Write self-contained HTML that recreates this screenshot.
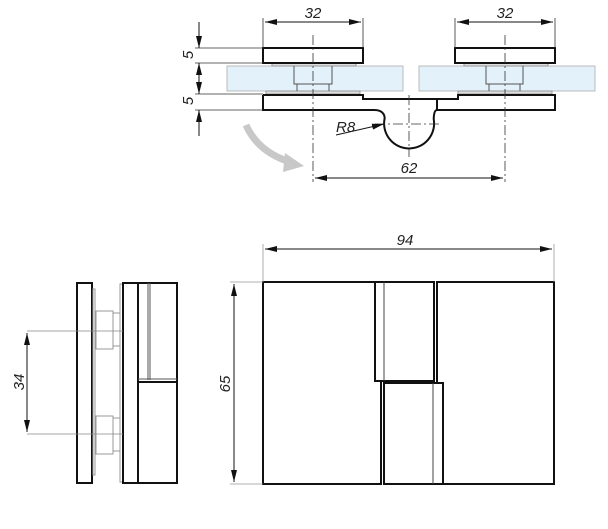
<!DOCTYPE html>
<html><head><meta charset="utf-8"><style>
html,body{margin:0;padding:0;background:#fff;}
svg{display:block;}
text{font-family:"Liberation Sans",sans-serif;font-style:italic;font-size:15px;fill:#222;}
</style></head><body>
<svg width="608" height="529" viewBox="0 0 608 529" xmlns="http://www.w3.org/2000/svg">
<defs>
<marker id="a" markerWidth="12" markerHeight="6" refX="12" refY="3" orient="auto-start-reverse" markerUnits="userSpaceOnUse">
<path d="M0,0 L12,3 L0,6 Z" fill="#111"/></marker>
</defs>
<g stroke="#111" fill="none">
<rect x="227" y="66" width="176" height="25" fill="#e3f1fb" stroke="#bbb" stroke-width="1"/>
<rect x="419" y="66" width="176" height="25" fill="#e3f1fb" stroke="#bbb" stroke-width="1"/>
<g stroke="#999" stroke-width="1" fill="#ddd">
<rect x="272" y="63" width="84" height="3"/><rect x="464" y="63" width="84" height="3"/>
<rect x="266" y="91" width="94" height="3"/><rect x="458" y="91" width="94" height="3"/>
</g>
<g stroke="#555" stroke-width="1">
<path d="M294,66 V84 H332 V66 M297,84 V91 M329,84 V91"/>
<path d="M486,66 V84 H523 V66 M489,84 V91 M520,84 V91"/>
</g>
<rect x="263" y="48" width="100" height="15" stroke-width="2"/>
<rect x="455" y="48" width="100" height="15" stroke-width="2"/>
<path stroke-width="2" d="M263,95 H363 V99 H437 M263,95 V110 H374 Q384,110 384.7,118 A25,25 0 1 0 433.7,119 Q434,110 437,110 M437,99 H458 V95 H555 V110 H437 Z"/>
<g stroke="#333" stroke-width="0.8" stroke-dasharray="10,3,2,3">
<path d="M313,35 V182 M505,35 V182 M409,95 V157 M375,124 H442"/>
</g>
<g stroke="#333" stroke-width="0.8">
<path d="M263,18 V48 M363,18 V48 M455,18 V48 M555,18 V48"/>
<path d="M195,48 H263 M195,63 H263 M195,94 H263 M195,110 H263"/>
</g>
<path d="M265,22 H361" stroke-width="1" marker-start="url(#a)" marker-end="url(#a)"/>
<path d="M457,22 H553" stroke-width="1" marker-start="url(#a)" marker-end="url(#a)"/>
<path d="M315,178 H503" stroke-width="1" marker-start="url(#a)" marker-end="url(#a)"/>
<path d="M199,22 V48 M199,63 V94 M199,110 V136" stroke-width="1"/>
<path d="M199,36 V48" marker-end="url(#a)" stroke-width="1"/>
<path d="M199,75 V63" marker-end="url(#a)" stroke-width="1"/>
<path d="M199,82 V94" marker-end="url(#a)" stroke-width="1"/>
<path d="M199,122 V110" marker-end="url(#a)" stroke-width="1"/>
<path d="M336,135 L384,124" stroke-width="1" marker-end="url(#a)"/>
<path d="M246,125 Q258,152 290,162" stroke="#c8c8c8" stroke-width="7"/>
<path d="M285,153 L304,166 L283,172 Z" fill="#c8c8c8" stroke="none"/>

<rect x="77" y="283" width="15" height="200" stroke-width="2"/>
<g stroke="#999" stroke-width="1">
<rect x="93" y="289" width="2" height="186"/>
<rect x="120" y="284" width="3" height="198"/>
<path d="M96,311 H113 V349 H96 Z M113,313 H120 V346 H113"/>
<path d="M96,416 H113 V454 H96 Z M113,418 H120 V451 H113"/>
</g>
<rect x="123" y="283" width="54" height="200" stroke-width="2"/>
<path d="M138,283 V483 M138,382 H177" stroke-width="2"/>
<path d="M148,283 V380 M150,283 V380 M138,379 H177" stroke="#555" stroke-width="1"/>
<g stroke="#888" stroke-width="0.8"><path d="M27,331 H123 M27,434 H123"/></g>
<path d="M27,333 V432" stroke-width="1" marker-start="url(#a)" marker-end="url(#a)"/>

<g stroke-width="2">
<path d="M263,282 H375 V381 H381 V484 H263 Z"/>
<rect x="375" y="282" width="59" height="99"/>
<path d="M437,282 H554 V484 H443 V383 H437 Z"/>
<rect x="384" y="383" width="59" height="101"/>
</g>
<path d="M384,282 V381 M433,383 V484" stroke="#444" stroke-width="1"/>
<g stroke="#999" stroke-width="0.8"><path d="M263,244 V282 M554,244 V282 M230,282 H263 M230,484 H263"/></g>
<path d="M265,249 H552" stroke-width="1" marker-start="url(#a)" marker-end="url(#a)"/>
<path d="M234,284 V482" stroke-width="1" marker-start="url(#a)" marker-end="url(#a)"/>
</g>
<text x="313" y="18" text-anchor="middle">32</text>
<text x="505" y="18" text-anchor="middle">32</text>
<text x="409" y="173" text-anchor="middle">62</text>
<text x="336" y="132">R8</text>
<text x="405" y="245" text-anchor="middle">94</text>
<text transform="translate(193,55) rotate(-90)" text-anchor="middle">5</text>
<text transform="translate(193,101) rotate(-90)" text-anchor="middle">5</text>
<text transform="translate(24,382) rotate(-90)" text-anchor="middle">34</text>
<text transform="translate(230,384) rotate(-90)" text-anchor="middle">65</text>
</svg>
</body></html>
